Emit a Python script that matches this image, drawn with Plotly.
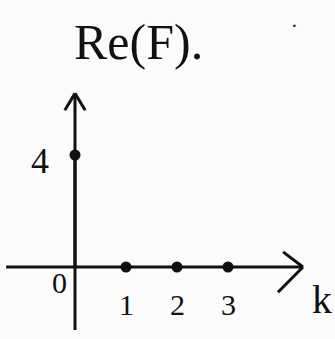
import plotly.graph_objects as go

# Real part of F(k): a single nonzero sample at k = 0
k_values = [0, 1, 2, 3]
re_values = [4, 0, 0, 0]

x_tick_labels = ["1", "2", "3"]
x_tick_positions = [1, 2, 3]
y_tick_labels = ["4"]
y_tick_positions = [4]

title_text = "Re(F)."
x_axis_name = "k"

ink = "#111111"
font_family = "Liberation Serif"

fig = go.Figure()

# stems from the k axis up to each sample
for k, v in zip(k_values, re_values):
    fig.add_trace(go.Scatter(x=[k, k], y=[0, v], mode="lines",
                             line=dict(color=ink, width=3), hoverinfo="skip"))

# sample points
fig.add_trace(go.Scatter(x=k_values, y=re_values, mode="markers",
                         marker=dict(color=ink, size=11)))

axis_line = dict(color=ink, width=3)
shapes = [
    # horizontal k axis and its open arrowhead
    dict(type="line", x0=-1.35, y0=0, x1=4.47, y1=0, line=axis_line),
    dict(type="line", x0=4.08, y0=0.54, x1=4.47, y1=0.0, line=axis_line),
    dict(type="line", x0=4.47, y0=0.0, x1=3.98, y1=-0.9, line=axis_line),
    # vertical axis and its open arrowhead
    dict(type="line", x0=0, y0=-2.25, x1=0, y1=6.2, line=axis_line),
    dict(type="line", x0=-0.2, y0=5.6, x1=0, y1=6.2, line=axis_line),
    dict(type="line", x0=0, y0=6.2, x1=0.2, y1=5.6, line=axis_line),
]

annotations = []
for pos, lab in zip(x_tick_positions, x_tick_labels):
    annotations.append(dict(x=pos, y=-1.35, text=lab, showarrow=False,
                            font=dict(size=30, color=ink, family=font_family)))
for pos, lab in zip(y_tick_positions, y_tick_labels):
    annotations.append(dict(x=-0.68, y=pos - 0.2, text=lab, showarrow=False,
                            font=dict(size=36, color=ink, family=font_family)))
annotations.append(dict(x=-0.3, y=-0.55, text="0", showarrow=False,
                        font=dict(size=30, color=ink, family=font_family)))
annotations.append(dict(x=4.85, y=-1.15, text=x_axis_name, showarrow=False,
                        font=dict(size=40, color=ink, family=font_family)))
annotations.append(dict(x=1.24, y=8.05, text=title_text, showarrow=False,
                        font=dict(size=50, color=ink, family=font_family)))
annotations.append(dict(x=4.3, y=8.6, text="·", showarrow=False,
                        font=dict(size=20, color=ink, family=font_family)))

fig.update_layout(
    width=335, height=339,
    margin=dict(l=0, r=0, t=0, b=0),
    paper_bgcolor="#fbfbfb", plot_bgcolor="#fbfbfb",
    showlegend=False,
    xaxis=dict(range=[-75 / 51, 260 / 51], visible=False, fixedrange=True),
    yaxis=dict(range=[-72 / 28, 267 / 28], visible=False, fixedrange=True),
    shapes=shapes,
    annotations=annotations,
)

fig.write_html("out.html")
